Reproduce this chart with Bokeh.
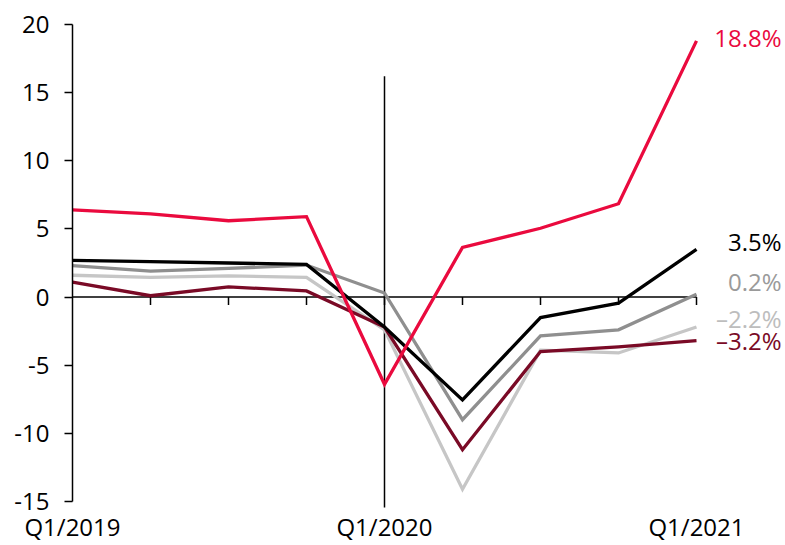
from bokeh.plotting import figure
from bokeh.models import Range1d, LinearAxis, FixedTicker
from bokeh.core.properties import value
from bokeh.embed import file_html
from bokeh.resources import INLINE

# Quarterly growth rates, %
quarters = ["Q1/2019", "Q2/2019", "Q3/2019", "Q4/2019",
            "Q1/2020", "Q2/2020", "Q3/2020", "Q4/2020", "Q1/2021"]
series_red = [6.4, 6.1, 5.6, 5.9, -6.4, 3.65, 5.05, 6.85, 18.8]
series_black = [2.7, 2.6, 2.5, 2.4, -2.2, -7.55, -1.5, -0.45, 3.5]
series_darkgrey = [2.3, 1.9, 2.1, 2.35, 0.3, -9.0, -2.85, -2.4, 0.2]
series_lightgrey = [1.6, 1.45, 1.55, 1.45, -2.4, -14.1, -3.9, -4.1, -2.2]
series_darkred = [1.1, 0.1, 0.75, 0.45, -2.2, -11.2, -4.0, -3.65, -3.2]
y_ticks = [-15, -10, -5, 0, 5, 10, 15, 20]

FONT = "Open Sans"
FS = "24px"
PX_PER_UNIT = 13.657
x = list(range(len(quarters)))

p = figure(width=785, height=545, output_backend="svg", toolbar_location=None,
           x_range=Range1d(0, 9.141), y_range=Range1d(-15.44, 20),
           min_border_left=72, min_border_right=0, min_border_top=24,
           min_border_bottom=37, x_axis_type=None, y_axis_type=None)
p.outline_line_color = None
p.xgrid.visible = False
p.ygrid.visible = False

# left value axis
yax = LinearAxis(ticker=FixedTicker(ticks=y_ticks), bounds=(-15, 20))
yax.major_label_overrides = {t: str(t) for t in y_ticks}
yax.axis_line_width = 1.5
yax.axis_line_color = "black"
yax.major_tick_line_width = 1.5
yax.major_tick_in = 0
yax.major_tick_out = 8
yax.minor_tick_line_color = None
yax.major_label_standoff = 15
yax.major_label_text_font = FONT
yax.major_label_text_font_size = FS
yax.major_label_text_color = "black"
p.add_layout(yax, "left")

# bottom axis carrying only the yearly labels
year_ticks = [i for i, q in enumerate(quarters) if q.startswith("Q1")]
xax = LinearAxis(ticker=FixedTicker(ticks=year_ticks))
xax.major_label_overrides = {i: quarters[i] for i in year_ticks}
xax.axis_line_color = None
xax.major_tick_line_color = None
xax.minor_tick_line_color = None
xax.major_tick_out = 0
xax.major_tick_in = 0
xax.major_label_standoff = 2
xax.major_label_text_font = FONT
xax.major_label_text_font_size = FS
xax.major_label_text_color = "black"
p.add_layout(xax, "below")

# zero line with quarter tick marks
tick_len = 8 / PX_PER_UNIT
p.segment(x0=[x[0]], y0=[0], x1=[x[-1]], y1=[0], line_color="black", line_width=1.5)
p.segment(x0=x[1:], y0=[0] * (len(x) - 1), x1=x[1:], y1=[-tick_len] * (len(x) - 1),
          line_color="black", line_width=1.5)

# marker for the start of 2020
p.segment(x0=[4], y0=[-15.8], x1=[4], y1=[16.2], line_color="black", line_width=1.5)

lines = [
    (series_lightgrey, "#C6C6C6", "#BDBDBD", -1.6),
    (series_darkgrey, "#8F8F8F", "#9A9A9A", 1.17),
    (series_darkred, "#7A0A26", "#7A0A26", -3.2),
    (series_black, "#000000", "#000000", 4.1),
    (series_red, "#EA0A3E", "#EA0A3E", 19.04),
]

for vals, col, lab_col, lab_y in lines:
    p.line(x, vals, line_color=col, line_width=3.3, line_join="miter")
    txt = f"{vals[-1]:.1f}%".replace("-", "\u2013")
    p.text(x=[9.09], y=[lab_y], text=[txt], text_color=lab_col,
           text_font=value(FONT), text_font_size=FS,
           text_align="right", text_baseline="middle")

open("out.html", "w").write(file_html(p, INLINE))
